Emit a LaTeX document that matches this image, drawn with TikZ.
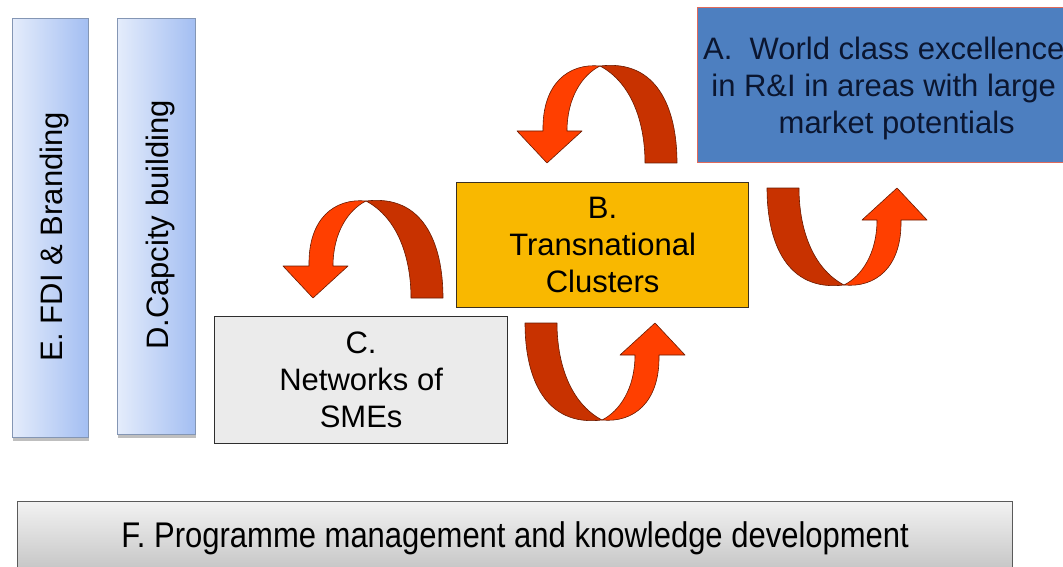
\documentclass[tikz,border=0pt]{standalone}
\usepackage{fontspec}
\setmainfont{Liberation Sans}
\usetikzlibrary{shadows}
\definecolor{sideL}{HTML}{E4ECFB}
\definecolor{sideR}{HTML}{A3BEF2}
\definecolor{sideB}{HTML}{8496B4}
\definecolor{aFill}{HTML}{4D7FC0}
\definecolor{aBorder}{HTML}{E06A5A}
\definecolor{aText}{HTML}{0B1630}
\definecolor{bFill}{HTML}{F9B800}
\definecolor{bBorder}{HTML}{3B3020}
\definecolor{cFill}{HTML}{EBEBEB}
\definecolor{cBorder}{HTML}{2E2E2E}
\definecolor{fTop}{HTML}{F2F2F2}
\definecolor{fBot}{HTML}{C2C2C2}
\definecolor{fBorder}{HTML}{5A5A5A}
\definecolor{arBright}{HTML}{FF3F00}
\definecolor{arDark}{HTML}{C83200}
\definecolor{arLine}{HTML}{6A1A00}
\tikzset{
  bigtext/.style={font=\fontsize{31}{37}\selectfont},
  sidebox/.style={draw=sideB, line width=1pt, left color=sideL, right color=sideR,
    inner sep=0pt, anchor=north west,
    drop shadow={shadow xshift=0pt, shadow yshift=-3pt, fill=black!50, opacity=0.5}},
  sidelabel/.style={bigtext, rotate=90, inner sep=0pt},
  abox/.style={draw=aBorder, line width=1.4pt, fill=aFill, text=aText, bigtext,
    align=center, anchor=north west, inner sep=0pt},
  bbox/.style={draw=bBorder, line width=1.2pt, fill=bFill, bigtext,
    align=center, anchor=north west, inner sep=0pt},
  cbox/.style={draw=cBorder, line width=1.2pt, fill=cFill, bigtext,
    align=center, anchor=north west, inner sep=0pt},
  fbox/.style={draw=fBorder, line width=1.4pt, top color=fTop, bottom color=fBot,
    font=\fontsize{31}{37}\selectfont, anchor=north west, inner sep=0pt},
  arrowdark/.style={fill=arDark, draw=arLine, line width=0.6pt, line join=round},
  arrowbright/.style={fill=arBright, draw=arLine, line width=0.6pt, line join=round}
}
\newcommand{\twistarrow}[1]{%
  \begin{scope}[#1]
    \path[arrowdark] (53,-97) .. controls (110,-104) and (130,-55) .. (130,0)
      -- (98,0) .. controls (98,-40) and (85,-80) .. (53,-97) -- cycle;
    \path[arrowbright] (53,-97) .. controls (22,-100) and (-5,-80) .. (-4,-32)
      -- (-30,-32) -- (0,0) -- (35,-32) -- (20,-32)
      .. controls (20,-65) and (35,-88) .. (53,-97) -- cycle;
  \end{scope}}
\begin{document}
\begin{tikzpicture}[x=1pt,y=-1pt]
  \clip (0,0) rectangle (1063,567);
  \fill[white] (0,0) rectangle (1063,567);

  % side bars
  \node[sidebox, minimum width=76pt, minimum height=419pt] (E) at (12,18) {};
  \node[sidebox, minimum width=78pt, minimum height=416pt] (D) at (117,18) {};
  \node[sidelabel] (Et) at (54,237) {E. FDI \& Branding};
  \node[sidelabel] (Dt) at (160,225) {D.Capcity building};

  % main boxes
  \node[abox, minimum width=372pt, minimum height=155pt] (A) at (697,7)
    {A.\ \ World class excellence\\ in R\&I in areas with large\\ \hspace*{26pt}\smash{market potentials}};
  \node[bbox, minimum width=292pt, minimum height=125pt] (B) at (456,182)
    {B.\\ Transnational\\ Clusters};
  \node[cbox, minimum width=293pt, minimum height=127pt] (C) at (214,316)
    {C.\\ Networks of\\ SMEs};

  % bottom bar
  \node[fbox, minimum width=995pt, minimum height=74pt] (F) at (17,501)
    {\scalebox{1}[1.15]{F. Programme management and knowledge development}};

  % twisted arrows
  \twistarrow{shift={(547,163)}}
  \twistarrow{shift={(313,298)}}
  \twistarrow{shift={(655,323)}, rotate=180}
  \twistarrow{shift={(897,188)}, rotate=180}
\end{tikzpicture}
\end{document}
